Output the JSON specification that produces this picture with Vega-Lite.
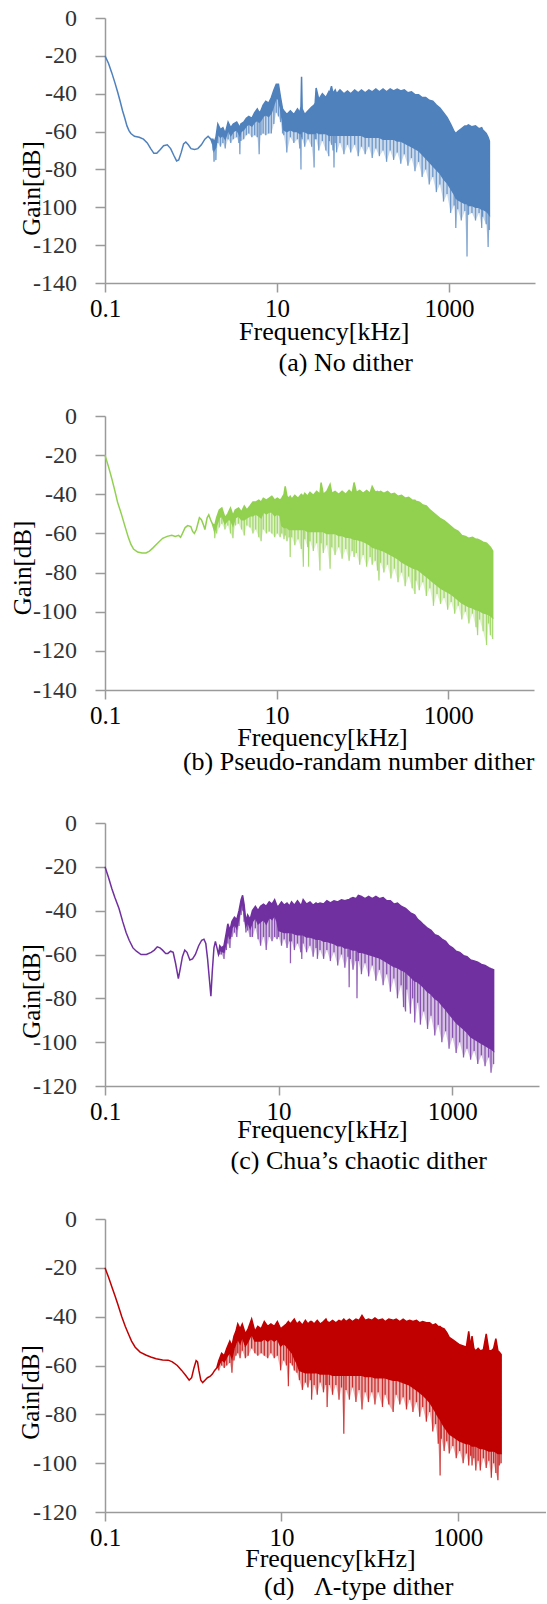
{
"$schema": "https://vega.github.io/schema/vega-lite/v6.json",
"background": "white",
"padding": {"left": 10, "top": 6, "right": 0, "bottom": 0},
"bounds": "flush",
"spacing": 133,
"config": {
  "view": {"stroke": null},
  "axis": {"grid": false, "domainColor": "#9a9a9a", "tickColor": "#9a9a9a", "domainWidth": 1.5, "tickWidth": 1.5, "labelFont": "Liberation Serif, Times New Roman, serif", "titleFont": "Liberation Serif, Times New Roman, serif", "titleFontWeight": "normal", "titleColor": "#000000", "titleFontSize": 26},
  "axisX": {"tickSize": 9, "labelPadding": 4, "labelFontSize": 25, "labelColor": "#000000", "labelFlush": false},
  "axisY": {"tickSize": 10, "labelPadding": 18.5, "labelFontSize": 24, "labelColor": "#333333", "titleFontSize": 25},
  "title": {"font": "Liberation Serif, Times New Roman, serif", "fontSize": 26, "fontWeight": "normal", "color": "#000000"}
},
"datasets": {
"a": [
{"f":0.1,"hi":-20,"mid":-20,"lo":-20},{"f":0.11,"hi":-24,"mid":-24,"lo":-24},{"f":0.12,"hi":-29,"mid":-29,"lo":-29},{"f":0.13,"hi":-34,"mid":-34,"lo":-34},{"f":0.14,"hi":-39,"mid":-39,"lo":-39},{"f":0.15,"hi":-44,"mid":-44,"lo":-44},{"f":0.16,"hi":-49,"mid":-49,"lo":-49},{"f":0.17,"hi":-53,"mid":-53,"lo":-53},{"f":0.18,"hi":-57,"mid":-57,"lo":-57},{"f":0.19,"hi":-59.5,"mid":-59.5,"lo":-59.5},{"f":0.2,"hi":-61,"mid":-61,"lo":-61},{"f":0.22,"hi":-62.5,"mid":-62.5,"lo":-62.5},{"f":0.25,"hi":-63,"mid":-63,"lo":-63},{"f":0.28,"hi":-64,"mid":-64,"lo":-64},{"f":0.31,"hi":-66,"mid":-66,"lo":-66},{"f":0.34,"hi":-69,"mid":-69,"lo":-69},{"f":0.37,"hi":-71.5,"mid":-71.5,"lo":-71.5},{"f":0.4,"hi":-71.5,"mid":-71.5,"lo":-71.5},{"f":0.44,"hi":-69.5,"mid":-69.5,"lo":-69.5},{"f":0.48,"hi":-67.5,"mid":-67.5,"lo":-67.5},{"f":0.53,"hi":-67,"mid":-67,"lo":-67},{"f":0.58,"hi":-69,"mid":-69,"lo":-69},{"f":0.63,"hi":-72.5,"mid":-72.5,"lo":-72.5},{"f":0.68,"hi":-75.5,"mid":-75.5,"lo":-75.5},{"f":0.72,"hi":-75,"mid":-75,"lo":-75},{"f":0.77,"hi":-71,"mid":-71,"lo":-71},{"f":0.82,"hi":-66.5,"mid":-66.5,"lo":-66.5},{"f":0.87,"hi":-65.5,"mid":-65.5,"lo":-65.5},{"f":0.93,"hi":-67,"mid":-67,"lo":-67},{"f":1.0,"hi":-69,"mid":-69,"lo":-69},{"f":1.1,"hi":-69.5,"mid":-69.5,"lo":-69.5},{"f":1.2,"hi":-69,"mid":-69,"lo":-69},{"f":1.32,"hi":-67,"mid":-67,"lo":-67},{"f":1.45,"hi":-64,"mid":-64,"lo":-64},{"f":1.58,"hi":-62.5,"mid":-62.5,"lo":-62.5},{"f":1.7,"hi":-64,"mid":-64,"lo":-64},
{"f":1.8,"hi":-64,"mid":-67,"lo":-70},{"f":1.85,"hi":-66,"mid":-70,"lo":-76},{"f":1.95,"hi":-63,"mid":-68,"lo":-75},{"f":2.05,"hi":-56,"mid":-61,"lo":-66},{"f":2.2,"hi":-59,"mid":-63,"lo":-68},{"f":2.35,"hi":-58,"mid":-62,"lo":-66},{"f":2.5,"hi":-61,"mid":-64,"lo":-69},{"f":2.7,"hi":-55,"mid":-59,"lo":-64},{"f":2.9,"hi":-58,"mid":-62,"lo":-66},{"f":3.1,"hi":-56,"mid":-60,"lo":-64},{"f":3.4,"hi":-55,"mid":-59,"lo":-63},{"f":3.6,"hi":-57,"mid":-61,"lo":-66},{"f":3.7,"hi":-58,"mid":-62,"lo":-72},{"f":3.8,"hi":-56,"mid":-60,"lo":-65},{"f":4.1,"hi":-55,"mid":-59,"lo":-64},{"f":4.4,"hi":-53,"mid":-57,"lo":-62},{"f":4.7,"hi":-52,"mid":-56,"lo":-61},{"f":5.1,"hi":-53,"mid":-57,"lo":-63},{"f":5.5,"hi":-50,"mid":-55,"lo":-62},{"f":5.9,"hi":-48,"mid":-54,"lo":-63},{"f":6.2,"hi":-50,"mid":-55,"lo":-72},{"f":6.5,"hi":-49,"mid":-54,"lo":-62},{"f":6.9,"hi":-46,"mid":-52,"lo":-61},{"f":7.4,"hi":-44,"mid":-51,"lo":-62},{"f":8.0,"hi":-45,"mid":-52,"lo":-61},{"f":8.6,"hi":-42,"mid":-50,"lo":-61},{"f":9.2,"hi":-38,"mid":-46,"lo":-56},{"f":9.8,"hi":-35,"mid":-42,"lo":-50},{"f":10.4,"hi":-35,"mid":-43,"lo":-52},{"f":11.0,"hi":-42,"mid":-48,"lo":-55},{"f":11.6,"hi":-48,"mid":-55,"lo":-61},
{"f":12,"hi":-49,"mid":-59,"lo":-62},{"f":13,"hi":-51,"mid":-60,"lo":-71},{"f":14.3,"hi":-49,"mid":-59,"lo":-63},{"f":15.7,"hi":-51,"mid":-60,"lo":-66},{"f":17.3,"hi":-48,"mid":-60,"lo":-64},{"f":18.4,"hi":-50,"mid":-61,"lo":-69},{"f":19.0,"hi":-47,"mid":-61,"lo":-80},{"f":19.3,"hi":-31,"mid":-60,"lo":-63},{"f":19.6,"hi":-48,"mid":-60,"lo":-64},{"f":21,"hi":-51,"mid":-60,"lo":-68},{"f":23,"hi":-49,"mid":-61,"lo":-64},{"f":25.3,"hi":-47,"mid":-61,"lo":-68},{"f":27,"hi":-46,"mid":-61,"lo":-79},{"f":27.8,"hi":-45,"mid":-61,"lo":-64},{"f":28.5,"hi":-37,"mid":-60,"lo":-64},{"f":30.6,"hi":-43,"mid":-61,"lo":-70},{"f":33.7,"hi":-40,"mid":-61,"lo":-65},{"f":37,"hi":-42,"mid":-61,"lo":-70},{"f":40,"hi":-39,"mid":-62,"lo":-73},{"f":40.7,"hi":-40,"mid":-62,"lo":-65},{"f":43,"hi":-36,"mid":-62,"lo":-67},{"f":44.8,"hi":-40,"mid":-62,"lo":-70},{"f":46,"hi":-39,"mid":-62,"lo":-79},{"f":47.5,"hi":-38,"mid":-62,"lo":-66},{"f":49.3,"hi":-40,"mid":-62,"lo":-71},{"f":54,"hi":-38,"mid":-62,"lo":-66},{"f":60,"hi":-40,"mid":-62,"lo":-72},{"f":66,"hi":-38.5,"mid":-62,"lo":-67},{"f":72,"hi":-40,"mid":-62,"lo":-71},{"f":80,"hi":-38,"mid":-62,"lo":-67},{"f":88,"hi":-39.5,"mid":-62,"lo":-73},{"f":96,"hi":-38,"mid":-62,"lo":-68},{"f":106,"hi":-39.5,"mid":-63,"lo":-72},{"f":117,"hi":-38,"mid":-63,"lo":-68},{"f":128,"hi":-39,"mid":-63,"lo":-74},{"f":141,"hi":-37.5,"mid":-63,"lo":-69},{"f":155,"hi":-39,"mid":-63,"lo":-73},{"f":171,"hi":-37.5,"mid":-64,"lo":-70},{"f":188,"hi":-39,"mid":-64,"lo":-76},{"f":207,"hi":-37.5,"mid":-64,"lo":-70},{"f":227,"hi":-38.5,"mid":-64,"lo":-75},{"f":250,"hi":-37.5,"mid":-65,"lo":-71},{"f":275,"hi":-38.5,"mid":-65,"lo":-77},{"f":302,"hi":-38,"mid":-66,"lo":-72},{"f":333,"hi":-39.5,"mid":-67,"lo":-78},{"f":366,"hi":-39,"mid":-68,"lo":-74},{"f":402,"hi":-40.5,"mid":-69,"lo":-81},{"f":443,"hi":-40.5,"mid":-70,"lo":-76},{"f":487,"hi":-42,"mid":-72,"lo":-84},{"f":536,"hi":-42,"mid":-74,"lo":-80},{"f":589,"hi":-43.5,"mid":-76,"lo":-88},{"f":648,"hi":-44,"mid":-78,"lo":-84},{"f":713,"hi":-46,"mid":-80,"lo":-92},{"f":784,"hi":-47.5,"mid":-82,"lo":-88},{"f":863,"hi":-50,"mid":-85,"lo":-97},{"f":949,"hi":-52.5,"mid":-87,"lo":-93},{"f":1044,"hi":-56,"mid":-90,"lo":-103},{"f":1148,"hi":-60,"mid":-93,"lo":-99},{"f":1200,"hi":-61,"mid":-95,"lo":-111},{"f":1263,"hi":-60,"mid":-96,"lo":-101},{"f":1389,"hi":-58.5,"mid":-97,"lo":-107},{"f":1528,"hi":-57,"mid":-98,"lo":-102},{"f":1620,"hi":-57,"mid":-98,"lo":-126},{"f":1681,"hi":-56.5,"mid":-99,"lo":-104},{"f":1849,"hi":-57.5,"mid":-99,"lo":-103},{"f":2034,"hi":-57,"mid":-100,"lo":-107},{"f":2237,"hi":-58.5,"mid":-100,"lo":-103},{"f":2400,"hi":-58,"mid":-101,"lo":-111},{"f":2461,"hi":-59,"mid":-101,"lo":-105},{"f":2707,"hi":-61,"mid":-102,"lo":-109},{"f":2850,"hi":-63,"mid":-103,"lo":-121},{"f":2950,"hi":-65,"mid":-104,"lo":-112}
],
"b": [
{"f":0.1,"hi":-20,"mid":-20,"lo":-20},{"f":0.11,"hi":-26,"mid":-26,"lo":-26},{"f":0.12,"hi":-32,"mid":-32,"lo":-32},{"f":0.13,"hi":-38,"mid":-38,"lo":-38},{"f":0.14,"hi":-44,"mid":-44,"lo":-44},{"f":0.155,"hi":-50,"mid":-50,"lo":-50},{"f":0.17,"hi":-56,"mid":-56,"lo":-56},{"f":0.187,"hi":-62,"mid":-62,"lo":-62},{"f":0.2,"hi":-65.5,"mid":-65.5,"lo":-65.5},{"f":0.215,"hi":-68,"mid":-68,"lo":-68},{"f":0.24,"hi":-69.5,"mid":-69.5,"lo":-69.5},{"f":0.27,"hi":-70,"mid":-70,"lo":-70},{"f":0.3,"hi":-70,"mid":-70,"lo":-70},{"f":0.33,"hi":-69,"mid":-69,"lo":-69},{"f":0.36,"hi":-67.5,"mid":-67.5,"lo":-67.5},{"f":0.41,"hi":-65,"mid":-65,"lo":-65},{"f":0.47,"hi":-62.5,"mid":-62.5,"lo":-62.5},{"f":0.53,"hi":-61.5,"mid":-61.5,"lo":-61.5},{"f":0.6,"hi":-61,"mid":-61,"lo":-61},{"f":0.66,"hi":-61.5,"mid":-61.5,"lo":-61.5},{"f":0.72,"hi":-61,"mid":-61,"lo":-61},{"f":0.76,"hi":-62,"mid":-62,"lo":-62},{"f":0.8,"hi":-60,"mid":-60,"lo":-60},{"f":0.86,"hi":-57,"mid":-57,"lo":-57},{"f":0.92,"hi":-56,"mid":-56,"lo":-56},{"f":1.0,"hi":-56.5,"mid":-56.5,"lo":-56.5},{"f":1.05,"hi":-59,"mid":-59,"lo":-59},{"f":1.1,"hi":-60,"mid":-60,"lo":-60},{"f":1.16,"hi":-58,"mid":-58,"lo":-58},{"f":1.26,"hi":-52,"mid":-52,"lo":-52},{"f":1.33,"hi":-53,"mid":-53,"lo":-53},{"f":1.4,"hi":-55.5,"mid":-55.5,"lo":-55.5},{"f":1.46,"hi":-58,"mid":-58,"lo":-58},{"f":1.55,"hi":-52,"mid":-52,"lo":-52},{"f":1.62,"hi":-50.5,"mid":-50.5,"lo":-50.5},{"f":1.7,"hi":-53,"mid":-53,"lo":-53},{"f":1.78,"hi":-55,"mid":-55,"lo":-55},
{"f":1.9,"hi":-56,"mid":-59,"lo":-62.5},{"f":2.0,"hi":-52,"mid":-56,"lo":-60},{"f":2.15,"hi":-48,"mid":-52,"lo":-57},{"f":2.3,"hi":-47,"mid":-51,"lo":-55},{"f":2.5,"hi":-52,"mid":-55,"lo":-58},{"f":2.7,"hi":-50,"mid":-53,"lo":-56},{"f":2.9,"hi":-47,"mid":-53,"lo":-60},{"f":3.1,"hi":-51,"mid":-56,"lo":-62.5},{"f":3.3,"hi":-48,"mid":-52,"lo":-56},{"f":3.6,"hi":-47,"mid":-51,"lo":-55},{"f":3.9,"hi":-49,"mid":-53,"lo":-58},{"f":4.2,"hi":-46,"mid":-53,"lo":-61},{"f":4.5,"hi":-48,"mid":-52,"lo":-56},{"f":4.9,"hi":-46,"mid":-51,"lo":-57},{"f":5.3,"hi":-44,"mid":-51,"lo":-60},{"f":5.7,"hi":-44,"mid":-50,"lo":-58},{"f":6.2,"hi":-43,"mid":-51,"lo":-62},{"f":6.6,"hi":-44,"mid":-52,"lo":-64},{"f":7.0,"hi":-42,"mid":-49,"lo":-58},{"f":7.6,"hi":-43,"mid":-50,"lo":-60},{"f":8.2,"hi":-42,"mid":-49,"lo":-59},{"f":8.8,"hi":-41,"mid":-49,"lo":-60},{"f":9.5,"hi":-43,"mid":-51,"lo":-62},{"f":10.2,"hi":-42,"mid":-50,"lo":-60},{"f":11,"hi":-43,"mid":-51,"lo":-62},
{"f":11.5,"hi":-42,"mid":-56,"lo":-60},{"f":12.2,"hi":-40,"mid":-57,"lo":-63},{"f":12.6,"hi":-36,"mid":-57,"lo":-61},{"f":13.2,"hi":-41,"mid":-57,"lo":-64},{"f":14.0,"hi":-42,"mid":-58,"lo":-62},{"f":14.4,"hi":-41,"mid":-58,"lo":-72},{"f":15.0,"hi":-42.5,"mid":-58,"lo":-62},{"f":16.3,"hi":-40.5,"mid":-58,"lo":-66},{"f":17.8,"hi":-42,"mid":-58,"lo":-63},{"f":19.4,"hi":-40,"mid":-58,"lo":-68},{"f":20.5,"hi":-41,"mid":-58,"lo":-77},{"f":21.3,"hi":-39.5,"mid":-58,"lo":-63},{"f":23,"hi":-41,"mid":-59,"lo":-67},{"f":23.6,"hi":-40,"mid":-59,"lo":-77},{"f":24.5,"hi":-39,"mid":-59,"lo":-64},{"f":26.8,"hi":-40.5,"mid":-59,"lo":-69},{"f":29.3,"hi":-38.5,"mid":-59,"lo":-65},{"f":32,"hi":-40,"mid":-59,"lo":-79},{"f":33,"hi":-34,"mid":-59,"lo":-65},{"f":35,"hi":-40,"mid":-59,"lo":-70},{"f":38.5,"hi":-38.5,"mid":-60,"lo":-66},{"f":42,"hi":-35,"mid":-60,"lo":-78},{"f":44,"hi":-39.5,"mid":-60,"lo":-67},{"f":48,"hi":-38.5,"mid":-60,"lo":-71},{"f":53,"hi":-40,"mid":-61,"lo":-67},{"f":58,"hi":-38.5,"mid":-61,"lo":-73},{"f":64,"hi":-40,"mid":-62,"lo":-68},{"f":70,"hi":-38,"mid":-62,"lo":-74},{"f":76,"hi":-39.5,"mid":-62.5,"lo":-69},{"f":80,"hi":-34,"mid":-63,"lo":-72},{"f":85,"hi":-39,"mid":-63,"lo":-70},{"f":93,"hi":-38,"mid":-63.5,"lo":-76},{"f":102,"hi":-39.5,"mid":-64,"lo":-71},{"f":112,"hi":-38,"mid":-65,"lo":-77},{"f":123,"hi":-39.5,"mid":-66,"lo":-72},{"f":130,"hi":-36,"mid":-67,"lo":-76},{"f":141,"hi":-39,"mid":-67.5,"lo":-74},{"f":150,"hi":-38.5,"mid":-68,"lo":-79},{"f":156,"hi":-39,"mid":-68,"lo":-84},{"f":163,"hi":-38.5,"mid":-68.5,"lo":-75},{"f":178,"hi":-39.5,"mid":-69,"lo":-80},{"f":196,"hi":-38.5,"mid":-70,"lo":-76},{"f":215,"hi":-40,"mid":-71,"lo":-83},{"f":236,"hi":-39.5,"mid":-72,"lo":-78},{"f":260,"hi":-41,"mid":-73,"lo":-85},{"f":286,"hi":-40.5,"mid":-74.5,"lo":-80},{"f":315,"hi":-42,"mid":-75.5,"lo":-87},{"f":346,"hi":-41.5,"mid":-76.5,"lo":-82},{"f":380,"hi":-43,"mid":-77.5,"lo":-88},{"f":410,"hi":-43,"mid":-78,"lo":-91},{"f":420,"hi":-43.5,"mid":-78,"lo":-84},{"f":460,"hi":-44,"mid":-79,"lo":-89},{"f":506,"hi":-45.5,"mid":-80.5,"lo":-85},{"f":556,"hi":-46,"mid":-82,"lo":-92},{"f":612,"hi":-48,"mid":-83.5,"lo":-88},{"f":673,"hi":-49.5,"mid":-85,"lo":-97},{"f":740,"hi":-51,"mid":-86.5,"lo":-91},{"f":814,"hi":-52.5,"mid":-88,"lo":-96},{"f":895,"hi":-53.5,"mid":-89,"lo":-93},{"f":985,"hi":-55,"mid":-90,"lo":-99},{"f":1083,"hi":-56.5,"mid":-91,"lo":-95},{"f":1190,"hi":-58,"mid":-92.5,"lo":-101},{"f":1310,"hi":-59,"mid":-94,"lo":-97},{"f":1440,"hi":-61,"mid":-95.5,"lo":-104},{"f":1585,"hi":-61.5,"mid":-96.5,"lo":-100},{"f":1743,"hi":-62.5,"mid":-97.5,"lo":-106},{"f":1917,"hi":-62,"mid":-98,"lo":-101},{"f":2109,"hi":-63,"mid":-99,"lo":-108},{"f":2200,"hi":-63,"mid":-99,"lo":-112},{"f":2320,"hi":-63.5,"mid":-99.5,"lo":-104},{"f":2552,"hi":-64.5,"mid":-100.5,"lo":-110},{"f":2800,"hi":-65,"mid":-101,"lo":-117},{"f":2950,"hi":-66,"mid":-101.5,"lo":-106},{"f":3100,"hi":-67,"mid":-102,"lo":-112},{"f":3300,"hi":-69,"mid":-103,"lo":-114}
],
"c": [
{"f":0.1,"hi":-20,"mid":-20,"lo":-20},{"f":0.11,"hi":-25,"mid":-25,"lo":-25},{"f":0.12,"hi":-30,"mid":-30,"lo":-30},{"f":0.13,"hi":-34,"mid":-34,"lo":-34},{"f":0.145,"hi":-39,"mid":-39,"lo":-39},{"f":0.16,"hi":-45,"mid":-45,"lo":-45},{"f":0.175,"hi":-50,"mid":-50,"lo":-50},{"f":0.19,"hi":-53.5,"mid":-53.5,"lo":-53.5},{"f":0.21,"hi":-57,"mid":-57,"lo":-57},{"f":0.23,"hi":-58.5,"mid":-58.5,"lo":-58.5},{"f":0.26,"hi":-60,"mid":-60,"lo":-60},{"f":0.3,"hi":-60,"mid":-60,"lo":-60},{"f":0.34,"hi":-59,"mid":-59,"lo":-59},{"f":0.37,"hi":-58,"mid":-58,"lo":-58},{"f":0.4,"hi":-56.5,"mid":-56.5,"lo":-56.5},{"f":0.43,"hi":-57,"mid":-57,"lo":-57},{"f":0.46,"hi":-58,"mid":-58,"lo":-58},{"f":0.5,"hi":-59.5,"mid":-59.5,"lo":-59.5},{"f":0.53,"hi":-59.5,"mid":-59.5,"lo":-59.5},{"f":0.57,"hi":-58.5,"mid":-58.5,"lo":-58.5},{"f":0.61,"hi":-59,"mid":-59,"lo":-59},{"f":0.65,"hi":-64,"mid":-64,"lo":-64},{"f":0.7,"hi":-71,"mid":-71,"lo":-71},{"f":0.74,"hi":-66,"mid":-66,"lo":-66},{"f":0.78,"hi":-61,"mid":-61,"lo":-61},{"f":0.83,"hi":-58,"mid":-58,"lo":-58},{"f":0.88,"hi":-59,"mid":-59,"lo":-59},{"f":0.95,"hi":-62.5,"mid":-62.5,"lo":-62.5},{"f":1.02,"hi":-62,"mid":-62,"lo":-62},{"f":1.1,"hi":-60,"mid":-60,"lo":-60},{"f":1.2,"hi":-56,"mid":-56,"lo":-56},{"f":1.3,"hi":-53.5,"mid":-53.5,"lo":-53.5},{"f":1.38,"hi":-53,"mid":-53,"lo":-53},{"f":1.45,"hi":-55,"mid":-55,"lo":-55},{"f":1.52,"hi":-62,"mid":-62,"lo":-62},{"f":1.6,"hi":-72,"mid":-72,"lo":-72},{"f":1.66,"hi":-79,"mid":-79,"lo":-79},{"f":1.72,"hi":-68,"mid":-68,"lo":-68},{"f":1.8,"hi":-57,"mid":-57,"lo":-57},{"f":1.87,"hi":-54,"mid":-54,"lo":-54},{"f":1.95,"hi":-57,"mid":-57,"lo":-57},{"f":2.03,"hi":-60,"mid":-60,"lo":-60},
{"f":2.1,"hi":-56,"mid":-58,"lo":-60},{"f":2.2,"hi":-57,"mid":-58.5,"lo":-60},{"f":2.35,"hi":-56,"mid":-59,"lo":-62},{"f":2.5,"hi":-50,"mid":-54,"lo":-58},{"f":2.6,"hi":-46,"mid":-50,"lo":-55},{"f":2.75,"hi":-49,"mid":-53,"lo":-57},{"f":2.9,"hi":-45,"mid":-48,"lo":-52},{"f":3.1,"hi":-43,"mid":-46,"lo":-50},{"f":3.3,"hi":-44,"mid":-48,"lo":-52},{"f":3.5,"hi":-40,"mid":-43,"lo":-47},{"f":3.7,"hi":-35,"mid":-38,"lo":-42},{"f":3.85,"hi":-33,"mid":-36,"lo":-40},{"f":4.0,"hi":-37,"mid":-41,"lo":-45},{"f":4.2,"hi":-45,"mid":-47,"lo":-50},{"f":4.4,"hi":-42,"mid":-45,"lo":-49},{"f":4.7,"hi":-44,"mid":-48,"lo":-52},{"f":5.0,"hi":-40,"mid":-45,"lo":-52},{"f":5.4,"hi":-38,"mid":-43,"lo":-48},{"f":5.8,"hi":-40,"mid":-46,"lo":-53},{"f":6.2,"hi":-38,"mid":-45,"lo":-56},{"f":6.7,"hi":-37,"mid":-44,"lo":-52},{"f":7.2,"hi":-38,"mid":-46,"lo":-58},{"f":7.8,"hi":-36,"mid":-43,"lo":-52},{"f":8.4,"hi":-37,"mid":-44,"lo":-54},{"f":9.0,"hi":-35,"mid":-42,"lo":-52},{"f":9.6,"hi":-38,"mid":-45,"lo":-53},
{"f":10,"hi":-38,"mid":-49,"lo":-52},{"f":10.8,"hi":-36,"mid":-49.5,"lo":-56},{"f":11.6,"hi":-37.5,"mid":-50,"lo":-53},{"f":12.5,"hi":-36.5,"mid":-50,"lo":-57},{"f":13.4,"hi":-38,"mid":-50,"lo":-54},{"f":13.7,"hi":-37,"mid":-50,"lo":-64},{"f":14.1,"hi":-36,"mid":-50,"lo":-54},{"f":15.2,"hi":-37.5,"mid":-50.5,"lo":-58},{"f":16.5,"hi":-35.5,"mid":-51,"lo":-55},{"f":18,"hi":-37.5,"mid":-51,"lo":-59},{"f":18.5,"hi":-37,"mid":-51,"lo":-62},{"f":19.2,"hi":-35,"mid":-51,"lo":-55},{"f":21,"hi":-37,"mid":-52,"lo":-59},{"f":23,"hi":-36,"mid":-52,"lo":-56},{"f":25,"hi":-37.5,"mid":-52.5,"lo":-61},{"f":27,"hi":-36.5,"mid":-53,"lo":-57},{"f":28,"hi":-37,"mid":-53,"lo":-62},{"f":30,"hi":-36.5,"mid":-53,"lo":-58},{"f":33,"hi":-37,"mid":-54,"lo":-62},{"f":36,"hi":-35.5,"mid":-54,"lo":-58},{"f":39.5,"hi":-36.5,"mid":-54.5,"lo":-63},{"f":43.5,"hi":-35.5,"mid":-55,"lo":-59},{"f":48,"hi":-36,"mid":-56,"lo":-65},{"f":53,"hi":-35,"mid":-56,"lo":-60},{"f":58,"hi":-35.5,"mid":-57,"lo":-66},{"f":63,"hi":-35,"mid":-57,"lo":-61},{"f":65,"hi":-35,"mid":-57,"lo":-75},{"f":67,"hi":-34.5,"mid":-57.5,"lo":-62},{"f":72,"hi":-34,"mid":-58,"lo":-67},{"f":78,"hi":-34.5,"mid":-58,"lo":-63},{"f":80,"hi":-34,"mid":-58,"lo":-80},{"f":83,"hi":-33,"mid":-59,"lo":-63},{"f":90,"hi":-33.5,"mid":-59,"lo":-69},{"f":99,"hi":-34.5,"mid":-59.5,"lo":-64},{"f":109,"hi":-33.5,"mid":-60,"lo":-70},{"f":120,"hi":-34.5,"mid":-60.5,"lo":-65},{"f":132,"hi":-33.5,"mid":-61,"lo":-72},{"f":145,"hi":-34.5,"mid":-61.5,"lo":-67},{"f":160,"hi":-34,"mid":-62.5,"lo":-74},{"f":176,"hi":-35.5,"mid":-63.5,"lo":-69},{"f":194,"hi":-35.5,"mid":-64.5,"lo":-77},{"f":213,"hi":-37,"mid":-65.5,"lo":-71},{"f":234,"hi":-36.5,"mid":-66,"lo":-80},{"f":258,"hi":-38,"mid":-67,"lo":-74},{"f":275,"hi":-38.5,"mid":-67.5,"lo":-84},{"f":290,"hi":-39,"mid":-68,"lo":-86},{"f":300,"hi":-39.5,"mid":-68.5,"lo":-76},{"f":330,"hi":-41,"mid":-70,"lo":-87},{"f":350,"hi":-41.5,"mid":-71,"lo":-80},{"f":370,"hi":-42,"mid":-72,"lo":-91},{"f":400,"hi":-44,"mid":-72.5,"lo":-82},{"f":430,"hi":-45,"mid":-73.5,"lo":-92},{"f":470,"hi":-46.5,"mid":-75,"lo":-86},{"f":520,"hi":-48,"mid":-77,"lo":-94},{"f":570,"hi":-49,"mid":-78,"lo":-88},{"f":630,"hi":-51,"mid":-80,"lo":-97},{"f":690,"hi":-51.5,"mid":-81,"lo":-92},{"f":760,"hi":-53,"mid":-83,"lo":-100},{"f":840,"hi":-54,"mid":-85,"lo":-95},{"f":920,"hi":-56,"mid":-87,"lo":-103},{"f":1010,"hi":-57,"mid":-89,"lo":-98},{"f":1110,"hi":-58.5,"mid":-91,"lo":-105},{"f":1220,"hi":-59,"mid":-92.5,"lo":-100},{"f":1350,"hi":-60.5,"mid":-94,"lo":-107},{"f":1480,"hi":-61,"mid":-95.5,"lo":-103},{"f":1630,"hi":-62.5,"mid":-97.5,"lo":-108},{"f":1790,"hi":-63,"mid":-98.5,"lo":-104},{"f":1970,"hi":-63.5,"mid":-99.5,"lo":-110},{"f":2170,"hi":-64.5,"mid":-100.5,"lo":-106},{"f":2390,"hi":-65,"mid":-101.5,"lo":-111},{"f":2630,"hi":-66,"mid":-102.5,"lo":-107},{"f":2800,"hi":-66.5,"mid":-103,"lo":-114},{"f":3000,"hi":-67,"mid":-104,"lo":-110}
],
"d": [
{"f":0.1,"hi":-20,"mid":-20,"lo":-20},{"f":0.11,"hi":-24,"mid":-24,"lo":-24},{"f":0.12,"hi":-28,"mid":-28,"lo":-28},{"f":0.13,"hi":-31.5,"mid":-31.5,"lo":-31.5},{"f":0.14,"hi":-35,"mid":-35,"lo":-35},{"f":0.155,"hi":-40,"mid":-40,"lo":-40},{"f":0.17,"hi":-44,"mid":-44,"lo":-44},{"f":0.184,"hi":-47,"mid":-47,"lo":-47},{"f":0.2,"hi":-50,"mid":-50,"lo":-50},{"f":0.22,"hi":-52.5,"mid":-52.5,"lo":-52.5},{"f":0.25,"hi":-54.5,"mid":-54.5,"lo":-54.5},{"f":0.29,"hi":-55.7,"mid":-55.7,"lo":-55.7},{"f":0.33,"hi":-56.5,"mid":-56.5,"lo":-56.5},{"f":0.38,"hi":-57.2,"mid":-57.2,"lo":-57.2},{"f":0.45,"hi":-57.7,"mid":-57.7,"lo":-57.7},{"f":0.52,"hi":-57.8,"mid":-57.8,"lo":-57.8},{"f":0.58,"hi":-58.5,"mid":-58.5,"lo":-58.5},{"f":0.66,"hi":-60,"mid":-60,"lo":-60},{"f":0.74,"hi":-62,"mid":-62,"lo":-62},{"f":0.82,"hi":-64,"mid":-64,"lo":-64},{"f":0.9,"hi":-66,"mid":-66,"lo":-66},{"f":0.96,"hi":-65,"mid":-65,"lo":-65},{"f":1.02,"hi":-61,"mid":-61,"lo":-61},{"f":1.08,"hi":-58,"mid":-58,"lo":-58},{"f":1.12,"hi":-58.5,"mid":-58.5,"lo":-58.5},{"f":1.16,"hi":-62,"mid":-62,"lo":-62},{"f":1.22,"hi":-66,"mid":-66,"lo":-66},{"f":1.28,"hi":-67,"mid":-67,"lo":-67},{"f":1.36,"hi":-66,"mid":-66,"lo":-66},{"f":1.45,"hi":-65,"mid":-65,"lo":-65},{"f":1.55,"hi":-64.5,"mid":-64.5,"lo":-64.5},{"f":1.65,"hi":-63.5,"mid":-63.5,"lo":-63.5},{"f":1.75,"hi":-62,"mid":-62,"lo":-62},{"f":1.85,"hi":-61,"mid":-61,"lo":-61},
{"f":1.95,"hi":-58,"mid":-60,"lo":-62},{"f":2.1,"hi":-55,"mid":-57.5,"lo":-60},{"f":2.25,"hi":-56,"mid":-58.5,"lo":-61},{"f":2.4,"hi":-53,"mid":-56.5,"lo":-60},{"f":2.6,"hi":-50,"mid":-54.5,"lo":-59},{"f":2.75,"hi":-52,"mid":-57,"lo":-63},{"f":2.9,"hi":-48,"mid":-53,"lo":-58},{"f":3.05,"hi":-46,"mid":-51,"lo":-56},{"f":3.2,"hi":-43,"mid":-49,"lo":-55},{"f":3.4,"hi":-45,"mid":-51,"lo":-57},{"f":3.6,"hi":-43,"mid":-48,"lo":-54},{"f":3.9,"hi":-47,"mid":-52,"lo":-57},{"f":4.2,"hi":-45,"mid":-50,"lo":-56},{"f":4.6,"hi":-41,"mid":-47,"lo":-53},{"f":5.0,"hi":-46,"mid":-50,"lo":-55},{"f":5.4,"hi":-44,"mid":-50,"lo":-56},{"f":5.9,"hi":-45,"mid":-50,"lo":-55},{"f":6.4,"hi":-42,"mid":-49,"lo":-56},{"f":7.0,"hi":-44,"mid":-50,"lo":-57},{"f":7.6,"hi":-43,"mid":-49,"lo":-55},{"f":8.3,"hi":-44,"mid":-50,"lo":-57},{"f":9.0,"hi":-42,"mid":-49,"lo":-56},{"f":9.8,"hi":-45,"mid":-52,"lo":-62},{"f":10.6,"hi":-44,"mid":-51,"lo":-58},{"f":11.4,"hi":-43,"mid":-52,"lo":-60},{"f":12.0,"hi":-42,"mid":-53,"lo":-68.5},{"f":12.6,"hi":-43,"mid":-54,"lo":-59},{"f":13.3,"hi":-42,"mid":-55,"lo":-60},{"f":14.0,"hi":-41,"mid":-57,"lo":-62},{"f":15,"hi":-43,"mid":-59,"lo":-63},
{"f":16,"hi":-42,"mid":-62,"lo":-66},{"f":17.3,"hi":-43.5,"mid":-62.5,"lo":-70},{"f":18.7,"hi":-41.5,"mid":-63,"lo":-67},{"f":20,"hi":-43,"mid":-63,"lo":-69},{"f":21.3,"hi":-42,"mid":-63,"lo":-66},{"f":22,"hi":-42,"mid":-63,"lo":-74},{"f":23.5,"hi":-43,"mid":-63,"lo":-68},{"f":25.5,"hi":-41.5,"mid":-63,"lo":-72},{"f":27.5,"hi":-43,"mid":-63.5,"lo":-67},{"f":30,"hi":-42,"mid":-63.5,"lo":-71},{"f":32,"hi":-41,"mid":-63.5,"lo":-68},{"f":33,"hi":-42,"mid":-63.5,"lo":-77},{"f":35,"hi":-42.5,"mid":-63.5,"lo":-68},{"f":38,"hi":-41.5,"mid":-64,"lo":-72},{"f":41.5,"hi":-42.5,"mid":-64,"lo":-68},{"f":45,"hi":-41.5,"mid":-64,"lo":-74},{"f":48,"hi":-42,"mid":-64,"lo":-69},{"f":51,"hi":-41,"mid":-64,"lo":-88},{"f":54,"hi":-42,"mid":-64,"lo":-70},{"f":59,"hi":-41,"mid":-64,"lo":-74},{"f":64,"hi":-42,"mid":-64,"lo":-69},{"f":70,"hi":-41,"mid":-64,"lo":-75},{"f":76,"hi":-41.5,"mid":-64,"lo":-70},{"f":82,"hi":-39.5,"mid":-64,"lo":-78},{"f":89,"hi":-41.5,"mid":-64.5,"lo":-71},{"f":97,"hi":-41,"mid":-64.5,"lo":-75},{"f":106,"hi":-41.5,"mid":-64.5,"lo":-71},{"f":115,"hi":-40.5,"mid":-65,"lo":-76},{"f":125,"hi":-41.5,"mid":-65,"lo":-71},{"f":140,"hi":-41,"mid":-65,"lo":-77},{"f":150,"hi":-42,"mid":-65,"lo":-72},{"f":165,"hi":-41,"mid":-65.5,"lo":-76},{"f":185,"hi":-41.5,"mid":-66,"lo":-79},{"f":200,"hi":-41,"mid":-66,"lo":-72},{"f":220,"hi":-42,"mid":-66.5,"lo":-76},{"f":240,"hi":-41,"mid":-67,"lo":-73},{"f":262,"hi":-42,"mid":-67.5,"lo":-78},{"f":285,"hi":-41.5,"mid":-68,"lo":-74},{"f":310,"hi":-42,"mid":-69,"lo":-79},{"f":340,"hi":-41.5,"mid":-70,"lo":-75},{"f":370,"hi":-42.5,"mid":-71,"lo":-81},{"f":400,"hi":-42,"mid":-72,"lo":-77},{"f":440,"hi":-42.5,"mid":-73.5,"lo":-83},{"f":480,"hi":-42.5,"mid":-75,"lo":-79},{"f":520,"hi":-43.5,"mid":-77,"lo":-87},{"f":560,"hi":-43,"mid":-79,"lo":-84},{"f":600,"hi":-44,"mid":-81,"lo":-92},{"f":630,"hi":-44,"mid":-82,"lo":-105},{"f":650,"hi":-44.5,"mid":-83,"lo":-90},{"f":700,"hi":-45,"mid":-85,"lo":-95},{"f":750,"hi":-46.5,"mid":-86.5,"lo":-91},{"f":800,"hi":-48.5,"mid":-88,"lo":-96},{"f":880,"hi":-49.5,"mid":-89,"lo":-93},{"f":960,"hi":-50.5,"mid":-90,"lo":-98},{"f":1050,"hi":-51.5,"mid":-91,"lo":-95},{"f":1150,"hi":-52,"mid":-91.5,"lo":-100},{"f":1250,"hi":-52.5,"mid":-92,"lo":-96},{"f":1330,"hi":-46,"mid":-92,"lo":-101},{"f":1400,"hi":-52.5,"mid":-92.5,"lo":-97},{"f":1450,"hi":-48,"mid":-93,"lo":-101},{"f":1520,"hi":-53,"mid":-93,"lo":-98},{"f":1600,"hi":-54,"mid":-93,"lo":-103},{"f":1700,"hi":-53,"mid":-93.5,"lo":-99},{"f":1800,"hi":-54,"mid":-94,"lo":-103},{"f":1950,"hi":-53.5,"mid":-94,"lo":-98},{"f":2100,"hi":-47,"mid":-94.5,"lo":-102},{"f":2250,"hi":-54,"mid":-95,"lo":-99},{"f":2400,"hi":-54,"mid":-95,"lo":-106},{"f":2550,"hi":-53,"mid":-95,"lo":-100},{"f":2700,"hi":-49,"mid":-95.5,"lo":-104},{"f":2850,"hi":-54,"mid":-96,"lo":-107},{"f":2950,"hi":-54.5,"mid":-96,"lo":-101},{"f":3100,"hi":-55.5,"mid":-96,"lo":-100}
]
},
"vconcat": [
{
 "width": 430, "height": 265,
 "title": {"text": "(a) No dither", "orient": "bottom", "anchor": "middle", "frame": "group", "dx": 25.7, "offset": 27, "baseline": "alphabetic"},
 "data": {"name": "a"},
 "encoding": {
   "x": {"field": "f", "type": "quantitative", "scale": {"type": "log", "domain": [0.1, 10000], "nice": false}, "axis": {"values": [0.1, 10, 1000], "format": "~g", "title": "Frequency[kHz]", "titleX": 218.8, "titleY": 56, "titleBaseline": "alphabetic", "titleAlign": "center"}},
   "y": {"field": "hi", "type": "quantitative", "title": "Gain[dB]", "scale": {"domain": [-140, 0], "nice": false, "zero": false}, "axis": {"values": [0, -20, -40, -60, -80, -100, -120, -140], "labelExpr": "datum.value == 0 ? '0' : '-' + abs(datum.value)", "titleX": -65.6, "titleY": 170, "titleAngle": 270, "titleBaseline": "alphabetic", "titleAlign": "center"}}
 },
 "layer": [
   {"mark": {"type": "area", "fill": "#4F81BD", "fillOpacity": 0.3, "strokeWidth": 0}, "encoding": {"y2": {"field": "lo"}}},
   {"mark": {"type": "rule", "color": "#4F81BD", "strokeWidth": 1.3, "opacity": 0.75}, "encoding": {"y": {"field": "mid", "type": "quantitative", "title": "Gain[dB]"}, "y2": {"field": "lo"}}},
   {"mark": {"type": "area", "fill": "#4F81BD", "stroke": "#4F81BD", "strokeWidth": 1.5}, "encoding": {"y2": {"field": "mid"}}}
 ]
},
{
 "width": 429, "height": 274,
 "title": {"text": "(b) Pseudo-randam number dither", "orient": "bottom", "anchor": "middle", "frame": "group", "dx": 39.2, "offset": 20, "baseline": "alphabetic"},
 "data": {"name": "b"},
 "encoding": {
   "x": {"field": "f", "type": "quantitative", "scale": {"type": "log", "domain": [0.1, 10000], "nice": false}, "axis": {"values": [0.1, 10, 1000], "format": "~g", "title": "Frequency[kHz]", "titleX": 217, "titleY": 55, "titleBaseline": "alphabetic", "titleAlign": "center"}},
   "y": {"field": "hi", "type": "quantitative", "title": "Gain[dB]", "scale": {"domain": [-140, 0], "nice": false, "zero": false}, "axis": {"values": [0, -20, -40, -60, -80, -100, -120, -140], "labelExpr": "datum.value == 0 ? '0' : '-' + abs(datum.value)", "titleX": -74.3, "titleY": 151.5, "titleAngle": 270, "titleBaseline": "alphabetic", "titleAlign": "center"}}
 },
 "layer": [
   {"mark": {"type": "area", "fill": "#92D050", "fillOpacity": 0.3, "strokeWidth": 0}, "encoding": {"y2": {"field": "lo"}}},
   {"mark": {"type": "rule", "color": "#92D050", "strokeWidth": 1.3, "opacity": 0.75}, "encoding": {"y": {"field": "mid", "type": "quantitative", "title": "Gain[dB]"}, "y2": {"field": "lo"}}},
   {"mark": {"type": "area", "fill": "#92D050", "stroke": "#92D050", "strokeWidth": 1.5}, "encoding": {"y2": {"field": "mid"}}}
 ]
},
{
 "width": 434, "height": 263,
 "title": {"text": "(c) Chua’s chaotic dither", "orient": "bottom", "anchor": "middle", "frame": "group", "dx": 36.7, "offset": 27, "baseline": "alphabetic"},
 "data": {"name": "c"},
 "encoding": {
   "x": {"field": "f", "type": "quantitative", "scale": {"type": "log", "domain": [0.1, 10000], "nice": false}, "axis": {"values": [0.1, 10, 1000], "format": "~g", "title": "Frequency[kHz]", "titleX": 217, "titleY": 51, "titleBaseline": "alphabetic", "titleAlign": "center"}},
   "y": {"field": "hi", "type": "quantitative", "title": "Gain[dB]", "scale": {"domain": [-120, 0], "nice": false, "zero": false}, "axis": {"values": [0, -20, -40, -60, -80, -100, -120], "labelExpr": "datum.value == 0 ? '0' : '-' + abs(datum.value)", "titleX": -65.6, "titleY": 168, "titleAngle": 270, "titleBaseline": "alphabetic", "titleAlign": "center"}}
 },
 "layer": [
   {"mark": {"type": "area", "fill": "#7030A0", "fillOpacity": 0.3, "strokeWidth": 0}, "encoding": {"y2": {"field": "lo"}}},
   {"mark": {"type": "rule", "color": "#7030A0", "strokeWidth": 1.3, "opacity": 0.75}, "encoding": {"y": {"field": "mid", "type": "quantitative", "title": "Gain[dB]"}, "y2": {"field": "lo"}}},
   {"mark": {"type": "area", "fill": "#7030A0", "stroke": "#7030A0", "strokeWidth": 1.5}, "encoding": {"y2": {"field": "mid"}}}
 ]
},
{
 "width": 441, "height": 293,
 "title": {"text": "(d) \u00a0\u00a0Λ-type dither", "orient": "bottom", "anchor": "middle", "frame": "group", "dx": 33.2, "offset": 24, "baseline": "alphabetic"},
 "data": {"name": "d"},
 "encoding": {
   "x": {"field": "f", "type": "quantitative", "scale": {"type": "log", "domain": [0.1, 10000], "nice": false}, "axis": {"values": [0.1, 10, 1000], "format": "~g", "title": "Frequency[kHz]", "titleX": 224.9, "titleY": 54, "titleBaseline": "alphabetic", "titleAlign": "center"}},
   "y": {"field": "hi", "type": "quantitative", "title": "Gain[dB]", "scale": {"domain": [-120, 0], "nice": false, "zero": false}, "axis": {"values": [0, -20, -40, -60, -80, -100, -120], "labelExpr": "datum.value == 0 ? '0' : '-' + abs(datum.value)", "titleX": -67, "titleY": 173, "titleAngle": 270, "titleBaseline": "alphabetic", "titleAlign": "center"}}
 },
 "layer": [
   {"mark": {"type": "area", "fill": "#C00000", "fillOpacity": 0.3, "strokeWidth": 0}, "encoding": {"y2": {"field": "lo"}}},
   {"mark": {"type": "rule", "color": "#C00000", "strokeWidth": 1.3, "opacity": 0.75}, "encoding": {"y": {"field": "mid", "type": "quantitative", "title": "Gain[dB]"}, "y2": {"field": "lo"}}},
   {"mark": {"type": "area", "fill": "#C00000", "stroke": "#C00000", "strokeWidth": 1.5}, "encoding": {"y2": {"field": "mid"}}}
 ]
}
]
}
